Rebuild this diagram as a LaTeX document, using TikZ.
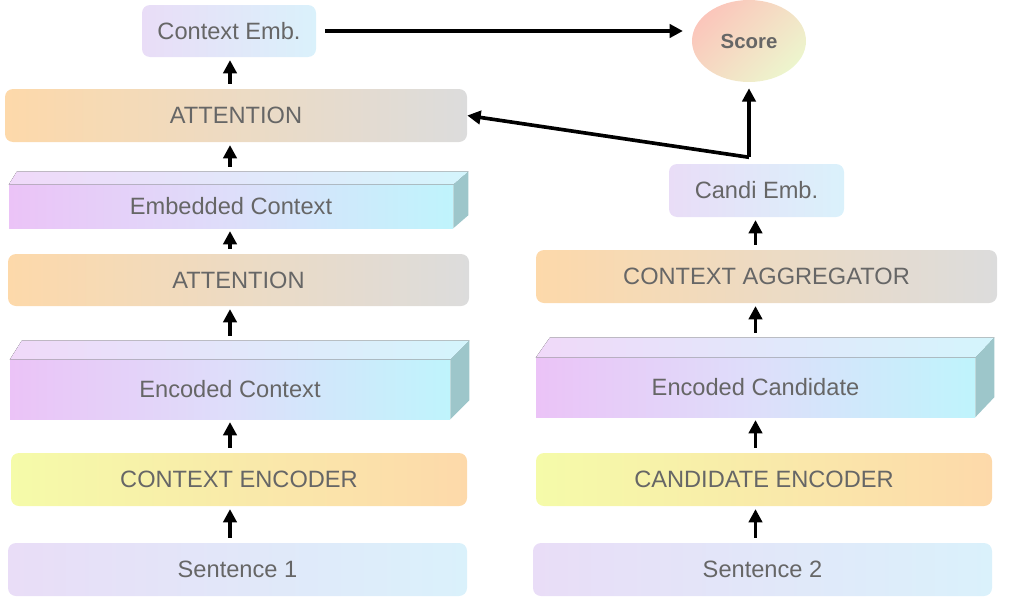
\documentclass[tikz,border=0pt]{standalone}
\usepackage{fontspec}
\setmainfont{Liberation Sans}
\usepackage{tikz}
\usetikzlibrary{calc, positioning, shapes.geometric, arrows.meta}
\definecolor{textG}{HTML}{666666}
\definecolor{lilacL}{HTML}{E9DDF7}
\definecolor{cyanL}{HTML}{DAF1FB}
\definecolor{peachO}{HTML}{FDD9AA}
\definecolor{greyR}{HTML}{DCDCDC}
\definecolor{lemonY}{HTML}{F5FBA9}
\definecolor{pinkP}{HTML}{EBC3F7}
\definecolor{midP}{HTML}{DEDEFA}
\definecolor{cyanC}{HTML}{BFF4FC}
\definecolor{topP}{HTML}{F0D9F9}
\definecolor{topC}{HTML}{D4F5FC}
\definecolor{sideT}{HTML}{9DC6CA}
\definecolor{scoreR}{HTML}{FBC6BB}
\definecolor{scoreG}{HTML}{EDF5CD}

\begin{document}
\begin{tikzpicture}[x = 0.025cm, y = -0.025cm,
    every node/.style = {text = textG, font = \fontsize{16.8}{20}\selectfont, inner sep = 0},
    plain/.style = {rounded corners = 0.2cm, left color = lilacL, right color = cyanL},
    layer/.style = {rounded corners = 0.2cm, left color = peachO, right color = greyR},
    encoder/.style = {rounded corners = 0.2cm, left color = lemonY, right color = peachO},
    slab/.style = {left color = pinkP, right color = cyanC, middle color = midP},
    up/.style = {line width = 2.6pt, -{Triangle[length = 9.5pt, width = 9.5pt]},
                 shorten < = 0.12cm, shorten > = 0.07cm}]
  \def\px{0.025cm}

  \useasboundingbox (0, 0) rectangle (1024, 598);

  % ------------------------
  % context side
  % ------------------------

  \node[plain, minimum width = 174*\px, minimum height = 52*\px] (ctxemb) at (229, 31) {Context Emb.};
  \node[layer, minimum width = 462*\px, minimum height = 53*\px] (att2) at (236, 115.5) {ATTENTION};
  \node[slab, minimum width = 444*\px, minimum height = 43*\px] (emb) at (231, 206.5) {Embedded Context};
  \node[layer, minimum width = 461*\px, minimum height = 52*\px] (att1) at (238.5, 280) {ATTENTION};
  \node[slab, minimum width = 440*\px, minimum height = 59*\px] (encc) at (230, 389.5) {Encoded Context};
  \node[encoder, minimum width = 456*\px, minimum height = 53*\px] (ctxenc) at (239, 479.5) {CONTEXT ENCODER};
  \node[plain, minimum width = 459*\px, minimum height = 53*\px] (sent1) at (237.5, 569.5) {Sentence 1};

  % ------------------------
  % candidate side
  % ------------------------

  \node[ellipse, top color = scoreR, bottom color = scoreG, shading angle = 45,
        minimum width = 114*\px, minimum height = 82*\px,
        font = \fontsize{14.5}{17}\selectfont\bfseries] (score) at (749, 41) {Score};
  \node[plain, minimum width = 175*\px, minimum height = 53*\px] (candemb) at (756.5, 190.5) {Candi Emb.};
  \node[layer, minimum width = 461*\px, minimum height = 53*\px] (agg) at (766.5, 276.5) {CONTEXT AGGREGATOR};
  \node[slab, minimum width = 439*\px, minimum height = 59*\px] (encd) at (755.5, 387.5) {Encoded Candidate};
  \node[encoder, minimum width = 456*\px, minimum height = 53*\px] (candenc) at (764, 479.5) {CANDIDATE ENCODER};
  \node[plain, minimum width = 459*\px, minimum height = 53*\px] (sent2) at (762.5, 569.5) {Sentence 2};

  % top and side faces of the slabs
  \foreach \slab/\dl/\dr/\dy in {emb/8/15/13, encc/12/19/19, encd/14/19/20} {
    \fill[left color = topP, right color = topC] (\slab.north west) -- ++(\dl, -\dy)
      -- ($(\slab.north east) + (\dr, -\dy)$) -- (\slab.north east) -- cycle;
    \fill[sideT] (\slab.north east) -- ++(\dr, -\dy)
      -- ($(\slab.south east) + (\dr, -\dy)$) -- (\slab.south east) -- cycle;
    \coordinate (\slab-back) at ($(\slab.north) + (0, -\dy)$);
  }

  % ------------------------
  % arrows
  % ------------------------

  \foreach \from/\to in {sent1.north/ctxenc.south, ctxenc.north/encc.south, encc-back/att1.south,
                         att1.north/emb.south, emb-back/att2.south, att2.north/ctxemb.south} {
    \draw[up] (\from -| encc) -- (\to -| encc);
  }
  \foreach \from/\to in {sent2.north/candenc.south, candenc.north/encd.south,
                         encd-back/agg.south, agg.north/candemb.south} {
    \draw[up] (\from -| encd) -- (\to -| encd);
  }

  \draw[up, shorten < = 0.22cm, shorten > = 0.22cm] (ctxemb.east) -- (ctxemb.east -| score.west);

  \coordinate (split) at ($(score.south) + (0, 75)$);
  \draw[up, shorten < = 0pt, shorten > = 0.15cm] (split) -- (score.south);
  \draw[up, shorten < = 0pt, shorten > = 0pt] (split) -- (att2.east);
\end{tikzpicture}
\end{document}
